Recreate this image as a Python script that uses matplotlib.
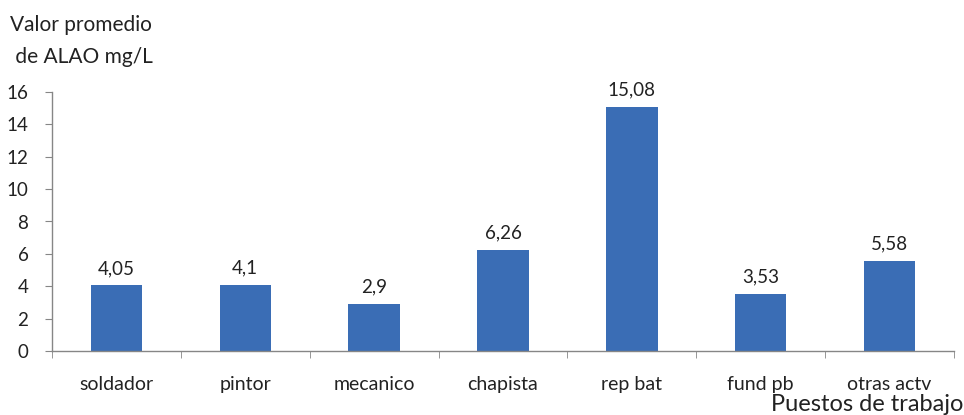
import matplotlib
matplotlib.use("Agg")
import matplotlib.pyplot as plt
import numpy as np

categories = ["soldador", "pintor", "mecanico", "chapista", "rep bat", "fund pb", "otras actv"]
values = [4.05, 4.1, 2.9, 6.26, 15.08, 3.53, 5.58]
value_labels = ["4,05", "4,1", "2,9", "6,26", "15,08", "3,53", "5,58"]
y_ticks = [0, 2, 4, 6, 8, 10, 12, 14, 16]

plt.rcParams["font.family"] = ["Lato", "DejaVu Sans"]

W, H = 964, 415
fig = plt.figure(figsize=(W / 100, H / 100), dpi=100)
ax = fig.add_axes([52 / W, 1 - 351 / H, (954 - 52) / W, (351 - 92) / H])

bar_color = "#3a6db5"
axis_color = "#868686"
text_color = "#222222"
x = np.arange(len(categories))
ax.bar(x, values, width=0.4, color=bar_color, zorder=2)

for xi, v, lab in zip(x, values, value_labels):
    ax.annotate(lab, (xi, v), xytext=(0, 6), textcoords="offset points",
                ha="center", va="bottom", fontsize=13.5, color=text_color)

ax.set_xlim(-0.5, len(categories) - 0.5)
ax.set_ylim(0, 16)
ax.set_yticks(y_ticks)
ax.set_yticklabels([str(t) for t in y_ticks])
ax.set_xticks(x)
ax.set_xticklabels(categories)
ax.set_xticks(np.arange(-0.5, len(categories)), minor=True)

for s in ["top", "right"]:
    ax.spines[s].set_visible(False)
for s in ["left", "bottom"]:
    ax.spines[s].set_color(axis_color)
    ax.spines[s].set_linewidth(1.0)

ax.tick_params(axis="y", direction="out", length=5, color=axis_color,
               labelsize=13.5, labelcolor=text_color, pad=12)
ax.tick_params(axis="x", which="major", length=0, labelsize=14,
               labelcolor=text_color, pad=18)
ax.tick_params(axis="x", which="minor", direction="out", length=5,
               color=axis_color)

fig.text(10 / W, 1 - 31 / H, "Valor promedio", ha="left", va="baseline",
         fontsize=15, color=text_color)
fig.text(10 / W, 1 - 63 / H, " de ALAO mg/L", ha="left", va="baseline",
         fontsize=15, color=text_color)
fig.text(963 / W, 1 - 411 / H, "Puestos de trabajo", ha="right", va="baseline",
         fontsize=17, color=text_color)

fig.savefig("out.png", dpi=100, facecolor="white")
